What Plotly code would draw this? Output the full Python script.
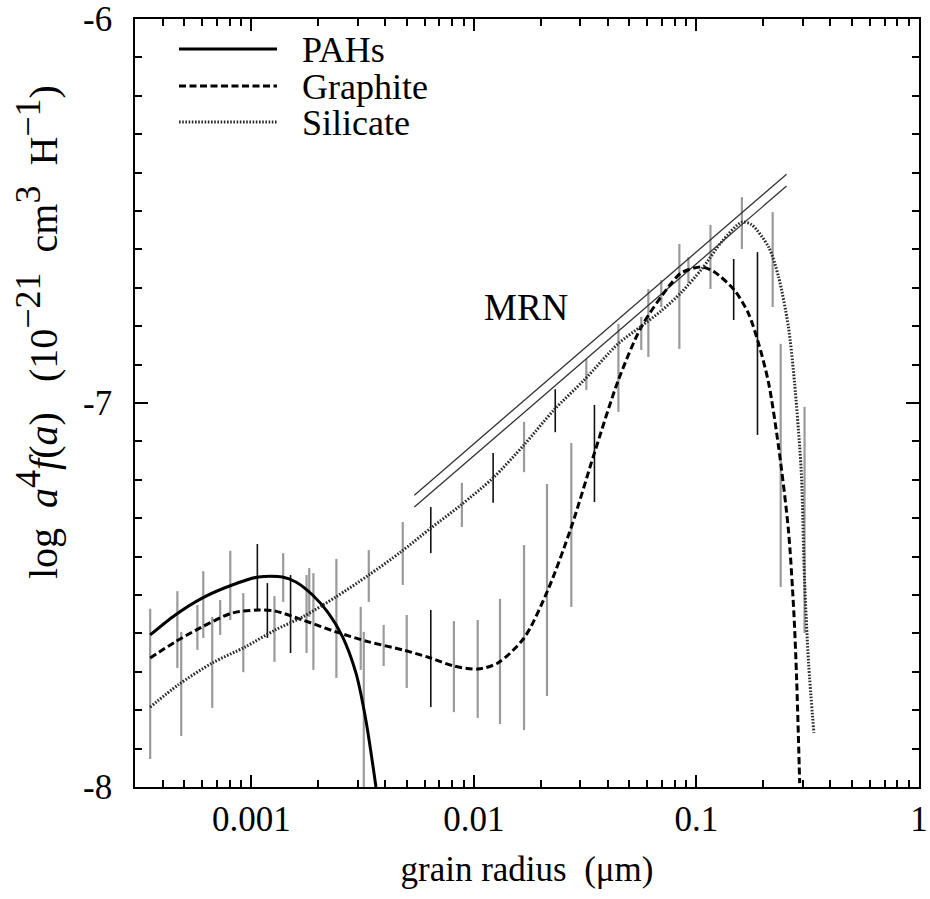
import plotly.graph_objects as go

# ---------------- data ----------------
# grain radius a in micron, value = log10 a^4 f(a)
pah_a = [3.51e-4, 4.55e-4, 6.01e-4, 8.20e-4, 1.076e-3, 1.38e-3, 1.585e-3, 1.884e-3,
         2.22e-3, 2.57e-3, 2.95e-3, 3.27e-3, 3.63e-3]
pah_v = [-7.604, -7.552, -7.508, -7.474, -7.453, -7.453, -7.466, -7.500,
         -7.547, -7.609, -7.703, -7.826, -8.0]

gra_a = [3.51e-4, 4.55e-4, 6.01e-4, 8.20e-4, 1.076e-3, 1.28e-3, 1.70e-3, 2.40e-3, 3.37e-3,
         4.79e-3, 6.40e-3, 8.13e-3, 1.04e-2, 1.28e-2, 1.68e-2, 2.15e-2, 2.74e-2, 3.48e-2,
         4.46e-2, 5.65e-2, 7.48e-2, 8.55e-2, 0.1054, 0.1205, 0.148, 0.171, 0.190, 0.211,
         0.234, 0.259, 0.274, 0.282, 0.291]
gra_v = [-7.664, -7.622, -7.583, -7.547, -7.539, -7.542, -7.565, -7.596, -7.622,
         -7.643, -7.664, -7.685, -7.693, -7.677, -7.612, -7.487, -7.323, -7.130,
         -6.940, -6.802, -6.698, -6.661, -6.646, -6.659, -6.706, -6.766, -6.844, -6.948,
         -7.115, -7.331, -7.547, -7.721, -7.99]

sil_a = [3.51e-4, 4.69e-4, 6.67e-4, 9.40e-4, 1.28e-3, 1.70e-3, 2.40e-3, 3.37e-3, 4.69e-3,
         6.40e-3, 8.73e-3, 1.22e-2, 1.68e-2, 2.29e-2, 3.13e-2, 4.46e-2, 5.65e-2, 6.95e-2,
         8.55e-2, 0.1054, 0.130, 0.160, 0.177, 0.211, 0.234, 0.259, 0.276, 0.291, 0.297,
         0.306, 0.319, 0.337]
sil_v = [-7.792, -7.734, -7.677, -7.635, -7.591, -7.557, -7.505, -7.448, -7.388,
         -7.326, -7.266, -7.195, -7.109, -7.018, -6.940, -6.845, -6.800, -6.760,
         -6.712, -6.652, -6.580, -6.529, -6.536, -6.594, -6.672, -6.802, -6.948, -7.115, -7.201,
         -7.461, -7.677, -7.859]

# MRN power-law bands (two parallel lines)
mrn_a = [0.0054, 0.254]
mrn_upper = [-7.240, -6.404]
mrn_lower = [-7.271, -6.435]

# grey error bars: radius, lower, upper
grey_a = [3.51e-4, 4.65e-4, 4.84e-4, 5.72e-4, 6.08e-4, 6.67e-4, 7.24e-4, 8.04e-4, 9.2e-4,
          1.27e-3, 1.39e-3, 1.77e-3, 1.82e-3, 1.90e-3, 2.41e-3, 3.10e-3, 3.20e-3, 3.37e-3,
          3.93e-3, 4.79e-3, 4.99e-3, 8.13e-3, 8.83e-3, 1.04e-2, 1.31e-2, 1.68e-2, 1.68e-2,
          2.13e-2, 2.74e-2, 3.20e-2, 4.46e-2, 5.65e-2, 6.08e-2, 6.95e-2, 8.38e-2, 9.2e-2,
          0.1156, 0.160, 0.220, 0.239, 0.306]
grey_lo = [-7.927, -7.690, -7.867, -7.643, -7.612, -7.794, -7.604, -7.565, -7.701,
           -7.674, -7.518, -7.651, -7.557, -7.695, -7.716, -7.695, -8.0, -7.518,
           -7.685, -7.474, -7.742, -7.805, -7.323, -7.820, -7.836, -7.180, -7.852,
           -7.763, -7.531, -6.966, -7.023, -6.862, -6.880, -6.750, -6.859, -6.688,
           -6.703, -6.599, -6.750, -7.479, -7.599]
grey_hi = [-7.536, -7.490, -7.596, -7.526, -7.438, -7.557, -7.513, -7.385, -7.495,
           -7.503, -7.391, -7.448, -7.430, -7.443, -7.406, -7.531, -7.596, -7.383,
           -7.578, -7.310, -7.552, -7.568, -7.208, -7.565, -7.510, -7.049, -7.370,
           -7.211, -7.104, -6.885, -6.794, -6.776, -6.703, -6.680, -6.586, -6.620,
           -6.536, -6.464, -6.503, -6.846, -7.010]

# black error bars
black_a = [1.064e-3, 1.18e-3, 1.50e-3, 6.40e-3, 6.40e-3, 1.22e-2, 2.32e-2, 3.48e-2, 0.147, 0.188]
black_lo = [-7.539, -7.612, -7.651, -7.391, -7.792, -7.260, -7.076, -7.258, -6.784, -7.083]
black_hi = [-7.367, -7.469, -7.448, -7.271, -7.539, -7.130, -6.964, -7.005, -6.625, -6.607]

legend_labels = ["PAHs", "Graphite", "Silicate"]
x_tickvals = [0.001, 0.01, 0.1, 1]
x_ticktext = ["0.001", "0.01", "0.1", "1"]
y_tickvals = [-8, -7, -6]
y_ticktext = ["-8", "-7", "-6"]

FONT = "Liberation Serif"

# minor tick positions for the log axis (2..9 in every decade)
x_minor = [k * 10.0 ** e for e in range(-4, 0) for k in range(2, 10) if 3e-4 <= k * 10.0 ** e <= 1]


def bars(a_list, lo_list, hi_list):
    xs, ys = [], []
    for a, lo, hi in zip(a_list, lo_list, hi_list):
        xs += [a, a, None]
        ys += [lo, hi, None]
    return xs, ys


fig = go.Figure()

gx, gy = bars(grey_a, grey_lo, grey_hi)
fig.add_trace(go.Scatter(x=gx, y=gy, mode="lines",
                         line=dict(color="#9a9a9a", width=2.2), showlegend=False))
bx, by = bars(black_a, black_lo, black_hi)
fig.add_trace(go.Scatter(x=bx, y=by, mode="lines",
                         line=dict(color="#111111", width=1.6), showlegend=False))

fig.add_trace(go.Scatter(x=mrn_a, y=mrn_upper, mode="lines",
                         line=dict(color="#333333", width=1.3), showlegend=False))
fig.add_trace(go.Scatter(x=mrn_a, y=mrn_lower, mode="lines",
                         line=dict(color="#333333", width=1.3), showlegend=False))

SOLID = dict(color="black", width=3)
DASH = dict(color="black", width=3, dash="7px,3.5px")
DOT = dict(color="#2a2a2a", width=3, dash="1.6px,1.6px")

fig.add_trace(go.Scatter(x=pah_a, y=pah_v, mode="lines", name=legend_labels[0],
                         line=dict(**SOLID, shape="spline", smoothing=0.8), showlegend=False))
fig.add_trace(go.Scatter(x=gra_a, y=gra_v, mode="lines", name=legend_labels[1],
                         line=dict(**DASH, shape="spline", smoothing=0.8), showlegend=False))
fig.add_trace(go.Scatter(x=sil_a, y=sil_v, mode="lines", name=legend_labels[2],
                         line=dict(**DOT, shape="spline", smoothing=0.8), showlegend=False))

# hand-drawn legend (long line samples as in the reference)
L = 135.0
T = 19.0
W = 784.0
H = 768.0


def px(xp):
    return (xp - L) / W


def py(yp):
    return 1 - (yp - T) / H


leg_rows = [49, 86, 122]
leg_styles = [SOLID, DASH, DOT]
for lab, yp, st in zip(legend_labels, leg_rows, leg_styles):
    fig.add_shape(type="line", xref="paper", yref="paper",
                  x0=px(179), x1=px(277), y0=py(yp), y1=py(yp),
                  line=dict(color=st["color"], width=st["width"], dash=st.get("dash", "solid")))
    fig.add_annotation(xref="paper", yref="paper", x=px(300), y=py(yp + 1),
                       text=lab, showarrow=False, xanchor="left", yanchor="middle",
                       font=dict(family=FONT, size=36, color="black"))

fig.add_annotation(x=-1.766, y=-6.751, xref="x", yref="y", text="MRN", showarrow=False,
                   font=dict(family=FONT, size=37, color="black"))

# y-axis title (placed like the reference: above the axis centre)
SUP = '<span style="font-size:36px">'
ytitle = ("log  <i>a</i><sup>" + SUP + "4</span></sup><i>f</i>(<i>a</i>)   (10<sup>" + SUP +
          "−21</span></sup>  cm<sup>" + SUP + "3</span></sup>  H<sup>" + SUP + "−1</span></sup>)")
fig.add_annotation(xref="paper", yref="paper", x=px(37), y=py(332), text=ytitle,
                   textangle=-90, showarrow=False, xanchor="center", yanchor="middle",
                   font=dict(family=FONT, size=40, color="black"))

fig.update_layout(
    width=930, height=899,
    margin=dict(l=135, r=11, t=19, b=112),
    paper_bgcolor="white", plot_bgcolor="white",
    font=dict(family=FONT, size=34, color="black"),
    showlegend=False,
)
fig.update_xaxes(
    type="log", range=[-3.5229, 0], automargin=False,
    tickvals=x_tickvals, ticktext=x_ticktext, ticklabeloverflow="allow",
    ticks="inside", ticklen=12, tickwidth=1.5, tickcolor="black",
    minor=dict(ticks="inside", ticklen=7, tickwidth=1.5, tickcolor="black",
               tickvals=x_minor, showgrid=False),
    showline=True, linecolor="black", linewidth=1.5, mirror="ticks",
    showgrid=False, zeroline=False,
    tickfont=dict(family=FONT, size=35),
    title=dict(text="grain radius  (μm)", font=dict(family=FONT, size=35), standoff=19),
)
fig.update_yaxes(
    range=[-8, -6], automargin=False,
    tickvals=y_tickvals, ticktext=y_ticktext, ticklabeloverflow="allow",
    ticks="inside", ticklen=13, tickwidth=1.5, tickcolor="black",
    minor=dict(ticks="inside", ticklen=7, tickwidth=1.5, tickcolor="black", dtick=0.1, showgrid=False),
    showline=True, linecolor="black", linewidth=1.5, mirror="ticks",
    showgrid=False, zeroline=False,
    tickfont=dict(family=FONT, size=35),
    ticklabelstandoff=14,
)

# remove the browser's default 8px page margin so the figure sits at the window origin
fig.write_html("out.html", config={"displayModeBar": False},
               post_script="document.body.style.margin='0px';")
